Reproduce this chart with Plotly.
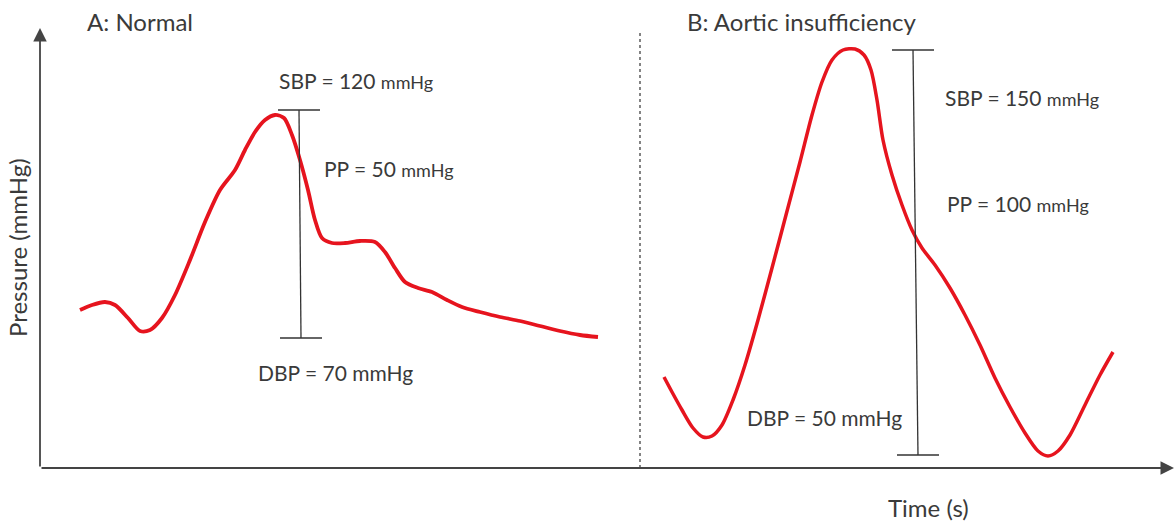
import plotly.graph_objects as go

# ---- data (arbitrary schematic units: time along x, pressure along y) ----
normal_t = [40, 52, 65, 75, 88, 100, 110, 122, 135, 150, 165, 180, 195, 205, 215, 225, 235, 244,
            252, 260, 268, 275, 282, 292, 305, 320, 335, 345, 355, 365, 378, 392, 407, 422, 440,
            460, 480, 500, 520, 540, 558]
normal_p = [158, 163, 166, 163, 150, 137, 138, 150, 173, 208, 246, 278, 298, 318, 336, 348, 353, 350,
            333, 308, 278, 248, 230, 225, 225, 227, 226, 216, 200, 186, 180, 176, 168, 161, 156,
            151, 147, 142, 137, 133, 131]

ai_t = [624, 632, 642, 653, 663, 672, 682, 693, 705, 718, 732, 746, 760, 772, 782, 792, 803, 815,
        824, 831, 837, 843, 852, 862, 872, 882, 895, 910, 925, 940, 955, 970, 985, 998, 1008,
        1018, 1030, 1045, 1060, 1073]
ai_p = [91, 76, 58, 40, 31, 32, 43, 68, 103, 148, 200, 253, 306, 353, 386, 408, 418, 419,
        413, 398, 368, 328, 293, 263, 238, 220, 203, 180, 153, 123, 90, 61, 35, 17, 12,
        17, 33, 63, 93, 116]

# pulse-pressure bars: [normal, aortic insufficiency]
bar_top_t = [259, 873]
bar_bot_t = [261, 878]
bar_top_p = [358, 418]
bar_bot_p = [130, 13]
cap_half = 21

labels_sbp = ["SBP = 120 <span style='font-size:18px'>mmHg</span>",
              "SBP = 150 <span style='font-size:18px'>mmHg</span>"]
labels_pp = ["PP = 50 <span style='font-size:18px'>mmHg</span>",
             "PP = 100 <span style='font-size:18px'>mmHg</span>"]
labels_dbp = ["DBP = 70 mmHg", "DBP = 50 mmHg"]
panel_titles = ["A: Normal", "B: Aortic insufficiency"]

x_max, y_max = 1134, 440
divider_t = 600

RED = "#e6141e"
INK = "#3a3a3a"
AXIS = "#444444"
FONT = "Lato"

fig = go.Figure()
fig.add_trace(go.Scatter(x=normal_t, y=normal_p, mode="lines", line=dict(color=RED, width=3.8, shape="spline", smoothing=0.8),
                         hoverinfo="skip"))
fig.add_trace(go.Scatter(x=ai_t, y=ai_p, mode="lines", line=dict(color=RED, width=3.5, shape="spline", smoothing=0.8),
                         hoverinfo="skip"))

# bars with caps
bx, by = [], []
for tt, tb, pt, pb in zip(bar_top_t, bar_bot_t, bar_top_p, bar_bot_p):
    bx += [tt, tb, None, tt - cap_half, tt + cap_half, None, tb - cap_half, tb + cap_half, None]
    by += [pt, pb, None, pt, pt, None, pb, pb, None]
fig.add_trace(go.Scatter(x=bx, y=by, mode="lines", line=dict(color="#333333", width=1.3), hoverinfo="skip"))

# divider
fig.add_shape(type="line", x0=divider_t, x1=divider_t, y0=0, y1=438, xref="x", yref="y",
              line=dict(color="#333333", width=1.2, dash="dot"))

# axes with arrows
fig.add_annotation(x=x_max, y=0, ax=0, ay=0, xref="x", yref="y", axref="x", ayref="y", text="",
                   showarrow=True, arrowhead=2, arrowsize=1.5, arrowwidth=1.8, arrowcolor=AXIS)
fig.add_annotation(x=0, y=y_max, ax=0, ay=0, xref="x", yref="y", axref="x", ayref="y", text="",
                   showarrow=True, arrowhead=2, arrowsize=1.5, arrowwidth=1.8, arrowcolor=AXIS)

def txt(x, y, s, size=21, xanchor="left", angle=0):
    fig.add_annotation(x=x / x_max, y=y / y_max, xref="paper", yref="paper", text=s, showarrow=False,
                       xanchor=xanchor, yanchor="middle", textangle=angle,
                       font=dict(family=FONT, size=size, color=INK))

txt(45, 446, panel_titles[0], size=24)
txt(645, 446, panel_titles[1], size=24)
txt(237, 388, labels_sbp[0])
txt(282, 300, labels_pp[0])
txt(216, 96, labels_dbp[0])
txt(903, 370, labels_sbp[1])
txt(905, 265, labels_pp[1])
txt(705, 51, labels_dbp[1])
txt(888, -40, "Time (s)", size=24, xanchor="center")
txt(-23, 220, "Pressure (mmHg)", size=24, xanchor="center", angle=-90)

fig.update_layout(
    width=1176, height=526,
    margin=dict(l=40, r=2, t=28, b=58),
    paper_bgcolor="white", plot_bgcolor="white",
    showlegend=False,
    xaxis=dict(range=[0, x_max], visible=False, fixedrange=True),
    yaxis=dict(range=[0, y_max], visible=False, fixedrange=True),
)

fig.write_html("out.html", config={"displayModeBar": False},
               post_script="document.body.style.margin='0';document.body.style.overflow='hidden';")
